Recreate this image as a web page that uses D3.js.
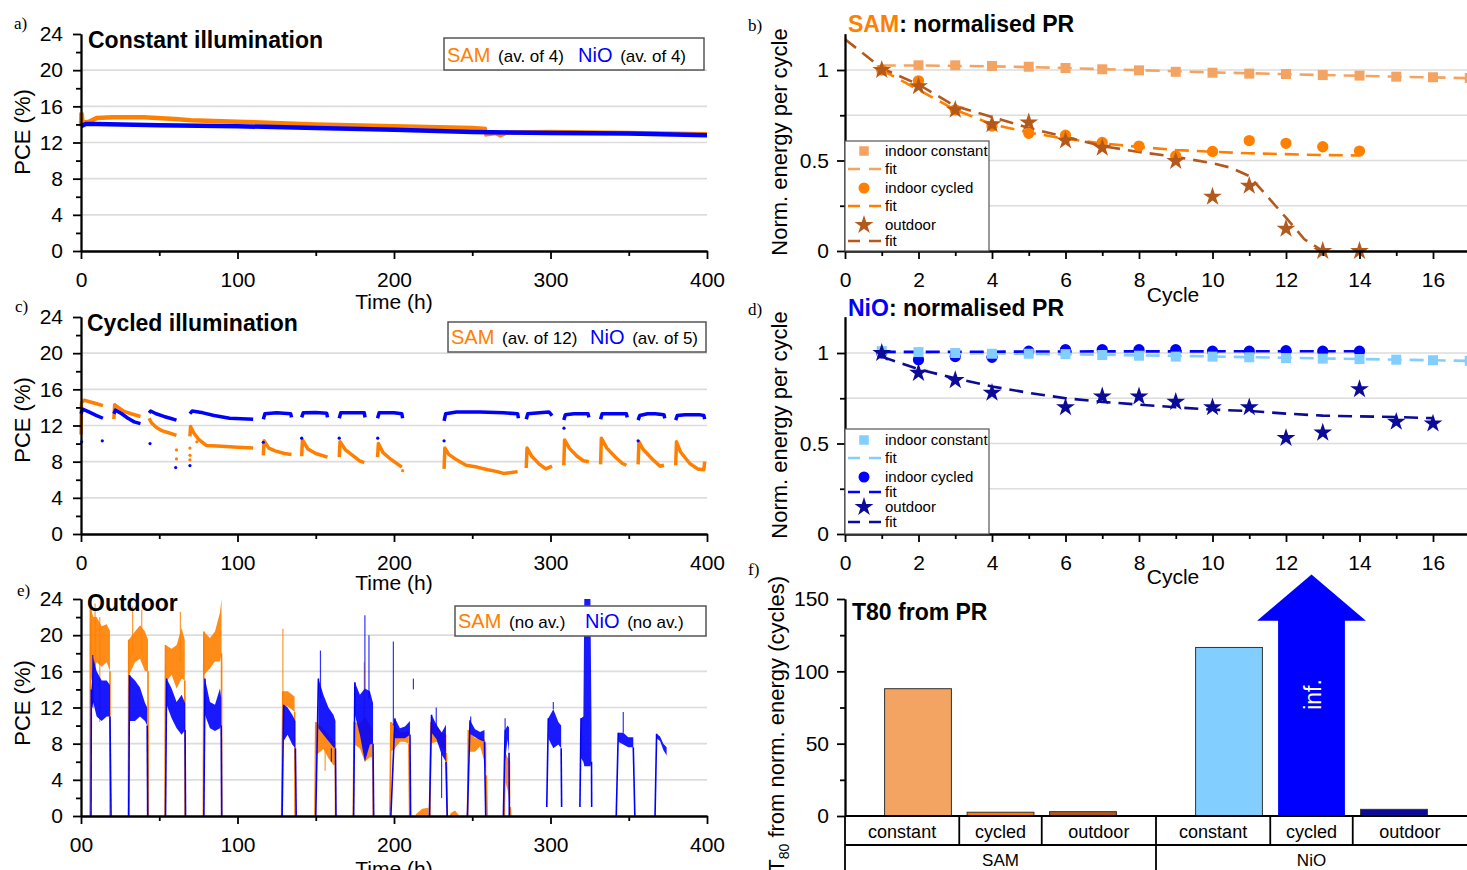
<!DOCTYPE html>
<html>
<head>
<meta charset="utf-8">
<script src="https://cdn.jsdelivr.net/npm/d3@7"></script>
<style>
  body { margin: 0; background: #fff; }
  svg { display: block; font-family: "Liberation Sans", Arial, sans-serif; }
  .axis path, .axis line { stroke: #000; stroke-width: 1.8; }
  .axis text { font-size: 21px; font-family: "Liberation Sans", Arial, sans-serif; fill: #000; }
  .grid line { stroke: #dcdcdc; stroke-width: 1.6; }
  .title { font-size: 23px; font-weight: bold; }
  .lab { font-size: 21px; }
  .ylab { font-size: 22px; }
  .plabel { font-family: "Liberation Serif", "Times New Roman", serif; font-size: 17px; }
  .leg { font-size: 15px; }
</style>
</head>
<body>
<script>
// ---------- ticks ----------
const timeTicks = [0, 100, 200, 300, 400];
const timeMinor = [50, 150, 250, 350];
const pceTicks = [0, 4, 8, 12, 16, 20, 24];
const pceMinor = [2, 6, 10, 14, 18, 22];
const pceGrid = [4, 8, 12, 16, 20];
const cycleTicks = [0, 2, 4, 6, 8, 10, 12, 14, 16];
const cycleMinor = [1, 3, 5, 7, 9, 11, 13, 15, 17];
const normTicks = [0, 0.5, 1];
const normMinor = [0.25, 0.75];
const normGrid = [0.25, 0.5, 0.75, 1];
const t80Ticks = [0, 50, 100, 150];
const t80Minor = [25, 75, 125];

// ---------- a) constant illumination [h, PCE] ----------
const constSAM = [[0,13.8],[0.3,15.3],[1,14.2],[5,14.3],[10,14.7],[20,14.8],[40,14.8],[60,14.6],[70,14.45],[100,14.3],[150,14.0],[200,13.8],[250,13.6],[258,13.5],[259,12.9],[265,13.05],[268,12.8],[272,13.1],[300,13.15],[350,13.05],[400,12.9]];
const constNiO = [[0,13.8],[3,14.05],[10,14.05],[50,13.9],[100,13.8],[150,13.6],[200,13.4],[250,13.15],[300,13.05],[350,13.0],[400,12.8]];

// ---------- c) cycled illumination, one array per light period ----------
const cycSAM = [
  [[0,11.0],[0.3,14.5],[2,14.8],[6,14.6],[10,14.4],[14,14.2]],
  [[21,12.7],[21.5,14.3],[23,14.1],[27,13.6],[32,13.3],[38,13.0]],
  [[43.5,12.8],[45,12.3],[48,11.8],[52,11.4],[56,11.2],[61,10.9]],
  [[69.6,10.8],[70,11.9],[72,11.2],[75,10.5],[80,9.8],[90,9.7],[100,9.6],[110,9.5]],
  [[116.5,8.7],[117,10.3],[120,9.5],[124,9.2],[130,8.9],[134.5,8.8]],
  [[141,8.6],[141.5,10.4],[145,9.4],[150,8.9],[157.5,8.5]],
  [[165,8.5],[165.5,10.2],[169,9.3],[175,8.5],[178,8.1],[181,7.9]],
  [[189.5,8.5],[190,10.0],[193,9.0],[197,8.4],[201,7.9],[205,7.4]],
  [[232,7.2],[232.5,9.5],[235,8.8],[240,8.2],[246,7.6],[253,7.4],[260,7.1],[266,6.9],[270,6.7],[275,6.8],[279,6.9]],
  [[284.5,7.3],[285,9.5],[288,8.6],[293,7.7],[297,7.2],[301,7.5]],
  [[308.5,7.6],[309,10.4],[312,9.5],[317,8.6],[321,8.1],[324.5,8.0]],
  [[332,7.7],[332.5,10.6],[336,9.5],[342,8.4],[346,7.8],[348.5,7.6]],
  [[356,7.7],[356.5,10.2],[359,9.4],[365,8.3],[370,7.5],[372.5,7.6]],
  [[380,7.6],[380.5,10.2],[383,9.1],[389,7.8],[394,7.2],[398,7.1],[398.5,8.0]]
];
const cycSAMDots = [[61,9.3],[61,8.3],[69.6,9.5],[69.6,8.7],[69.6,8.2],[74,10.2],[205.5,7.0]];
const cycNiO = [
  [[0,13.3],[1,13.8],[5,13.5],[10,13.1],[14,12.8]],
  [[21,13.3],[22,13.7],[26,13.3],[30,12.8],[34,12.4],[38,12.2]],
  [[43.5,13.4],[44.5,13.6],[48,13.3],[53,13.0],[57,12.8],[61,12.6]],
  [[69.6,13.3],[71,13.6],[78,13.4],[85,13.1],[95,12.8],[110,12.7]],
  [[116.5,12.7],[117.5,13.3],[125,13.4],[134,13.3],[134.5,12.9]],
  [[141,12.9],[142,13.4],[150,13.45],[157,13.35],[157.5,12.9]],
  [[165,12.8],[166,13.4],[175,13.4],[181,13.4],[181.5,12.9]],
  [[189.5,12.8],[190.5,13.4],[200,13.4],[205,13.3],[205.5,12.8]],
  [[232,12.5],[233,13.3],[240,13.5],[255,13.5],[270,13.4],[279,13.3],[279.5,12.8]],
  [[284.5,12.7],[285.5,13.3],[293,13.4],[299,13.5],[301,13.1]],
  [[308.5,12.6],[309.5,13.2],[315,13.3],[324,13.3],[324.5,12.9]],
  [[332,12.7],[333,13.3],[340,13.3],[348.5,13.3],[349,12.9]],
  [[356,12.6],[357,13.1],[362,13.3],[367,13.3],[372.5,13.2],[373,12.8]],
  [[380,12.6],[381,13.1],[386,13.2],[395,13.2],[398,13.1],[398.5,12.7]]
];
const cycNiODots = [[0.4,10.2],[13.6,10.3],[44.1,10.0],[60.5,7.35],[69.6,7.57],[116.5,10.15],[141,10.6],[165,10.6],[189.6,10.6],[232,10.3],[308.6,11.7],[356,10.3]];

// ---------- e) outdoor: per day, switch-on/off hour and spread [h, low, high] ----------
const outSAM = [
  { on: 5.8, off: 18.5, band: [[6,15,23],[7.9,15.5,22],[10,17,22],[13.2,16.5,21],[16.4,17,21.2],[18.5,16,20.5]] },
  { on: 30.3, off: 43, band: [[30.5,15.5,19.5],[34.5,17,20.4],[37.7,17.4,21.1],[40.9,16,20.4],[42.8,16,19.5]] },
  { on: 53.7, off: 66.5, band: [[54,14.8,18.9],[57.9,15.6,18.5],[61.1,14.1,18.9],[64.3,15.2,20.8],[66.3,15,19.5]] },
  { on: 78.2, off: 89.9, band: [[78.5,15.6,20.4],[82.4,16.3,19.7],[85.6,17.1,20.4],[88.8,17.1,22.5],[89.8,18,24]] },
  { on: 128.2, off: 136.8, band: [[129,12.1,13.8],[132,12.1,13.8],[134.5,11.8,13.5],[136.5,11.5,13.2]] },
  { on: 149.5, off: 162.7, band: [[150,6.7,10.4],[154.9,7.4,9.7],[158.1,6.4,9.0],[161.3,5.6,8.3],[162.5,5.6,8.3]] },
  { on: 174, off: 186.8, band: [[174.5,7.9,10.4],[178.2,7.5,10.2],[181.4,6,11],[184.6,6.5,10],[186.5,6.5,9.5]] },
  { on: 197.4, off: 210, band: [[198,7.1,10.4],[200.6,7.5,10],[203.8,8.2,9.3],[207,8.2,9.3],[209.5,8,9.5]] },
  { on: null, off: null, band: [[214,0,0.2],[218,0,0.8],[222,0,0.9]] },
  { on: 223, off: 234, band: [[223.5,8,10.4],[227.2,8.2,10],[230.4,7.5,9.3],[233.5,7,9]] },
  { on: null, off: null, band: [[236,0,0.3],[239,0,0.6],[241,0,0.2]] },
  { on: 247, off: 259.5, band: [[247.5,7.1,9.5],[251.8,7.1,8.6],[255,7.7,8.6],[257.8,6,8.5],[259,4.5,8]] },
  { on: 270.5, off: 274.6, band: [[271,3.8,7.1],[272.5,3,6.5],[274.3,1,6]] }
];
const outSAMSpikes = [[6.5,15,24],[9,17,23.5],[12,10.4,22],[33,18,23.2],[38.8,18,22.8],[63.5,17,22.6],[129,13,20.7],[181,11,17],[156,5,7.5]];
const outNiO = [
  { on: 6.4, off: 19.2, band: [[6.6,12,14],[7.9,12.5,17.5],[10,11,16],[13.2,10.5,15],[16.4,11,15],[18.5,11,14.5]] },
  { on: 30.5, off: 42.6, band: [[31,10.5,15.6],[34.5,10.5,15],[37.7,11,14.2],[40.9,10.5,12.5],[42.3,10,12]] },
  { on: 54, off: 66.8, band: [[54.7,12.3,15.2],[57.9,10.8,14.1],[61.1,9.7,12.6],[64.3,9.0,13.4],[66.5,9.5,12.5]] },
  { on: 78.5, off: 89.9, band: [[79.2,11.2,15.2],[82.4,9.7,12.6],[85.6,9.4,12.3],[88.8,9.7,14.1],[89.6,10,13]] },
  { on: 128.5, off: 137.5, band: [[129.5,8.3,12.3],[132,9,12.0],[135,7.9,11.2],[137,7.5,10.5]] },
  { on: 150, off: 162.9, band: [[151.7,9.7,15.2],[154.9,9.0,13.4],[158.1,8.3,12],[161.3,7.6,11.2],[162.6,7.5,10.5]] },
  { on: 174.2, off: 187, band: [[175,11.2,14.8],[178.2,9.0,13.4],[181.4,6,14.1],[184.6,7.9,13.8],[186.6,8,12.5]] },
  { on: 198, off: 210.6, band: [[200.6,8.6,10.8],[203.8,8.6,9.7],[207,8.6,9.9],[210.2,9,10.5]] },
  { on: 222.6, off: 234, band: [[224,9.2,11.2],[227.2,8.5,10.1],[230.4,6.8,9.2],[233.2,6,10.1]] },
  { on: 246.9, off: 258.6, band: [[248.6,9.1,10.6],[251.8,8.7,9.6],[255,8.4,9.3],[257.8,8.2,9.5]] },
  { on: 269.9, off: 273.7, band: [[271,6,9.5],[272.5,8.5,10],[273.5,7,9.8]] },
  { on: 297.6, off: 307.1, floor: 1.0, band: [[298.6,8.6,10.8],[301.8,7.5,11.8],[305,7.9,10.4],[306.8,7.5,10]] },
  { on: 318.8, off: 326.3, floor: 1.0, band: [[319.5,6.4,10.8],[321,6,11],[321.6,5.5,24],[325.5,5.5,24],[326.2,6,10]] },
  { on: 342, off: 353.9, band: [[343.3,8.2,9.2],[346.5,7.9,9.2],[349.7,7.6,8.7],[352.9,7.6,8.7]] },
  { on: 366.8, off: null, band: [[367.8,8.6,9.1],[370,8.3,8.8],[372.1,7.3,8.0],[374.2,6.7,7.6]] }
];
const outNiOSpikes = [[7.5,12,17.8],[153,13,18.3],[181.4,14,22.2],[184,13,20],[199.6,10,19.3],[212.4,14,15.2],[227,10,12],[230.4,2,7],[249,10,11],[301.8,11.8,12.6],[346.5,9.2,11.5],[271,9.5,10.8],[160,6,7.5]];

// ---------- b) SAM normalised PR ----------
const cyc17 = [1,2,3,4,5,6,7,8,9,10,11,12,13,14,15,16,17];
const cyc14 = [1,2,3,4,5,6,7,8,9,10,11,12,13,14];
const samConst = [1.0,1.026,1.026,1.022,1.018,1.011,1.004,0.998,0.99,0.985,0.98,0.978,0.972,0.969,0.963,0.96,0.956];
const samConstFit = [1.025,1.025,1.023,1.02,1.016,1.011,1.005,0.999,0.993,0.987,0.982,0.977,0.972,0.968,0.963,0.959,0.955];
const samCyc = [1.0,0.94,0.78,0.69,0.65,0.64,0.60,0.58,0.525,0.55,0.61,0.595,0.576,0.552];
const samCycFit = [1.0,0.89,0.78,0.70,0.655,0.62,0.595,0.575,0.558,0.548,0.54,0.535,0.53,0.528];
const samOutX = [1,2,3,4,5,6,7,9,10,11,12,13,14];
const samOut = [1.0,0.91,0.78,0.70,0.71,0.61,0.57,0.497,0.30,0.36,0.123,0.0,0.0];
const samOutFit = [[0,1.17],[1,1.01],[2,0.92],[3,0.80],[4,0.74],[5,0.68],[6,0.63],[7,0.58],[8,0.547],[9,0.52],[10,0.485],[10.5,0.46],[11,0.414],[11.5,0.30],[12,0.184],[12.5,0.065],[13,0]];

// ---------- d) NiO normalised PR ----------
const nioConst = [1.01,1.005,1.0,0.996,0.996,0.994,0.989,0.985,0.98,0.98,0.976,0.972,0.969,0.967,0.963,0.96,0.957];
const nioConstFit = [1.005,1.003,1.0,0.998,0.995,0.993,0.99,0.987,0.984,0.981,0.977,0.974,0.97,0.967,0.963,0.96,0.956];
const nioCyc = [1.0,0.963,0.98,0.976,1.01,1.018,1.018,1.018,1.018,1.01,1.01,1.013,1.01,1.01];
const nioCycFit = [1.006,1.006,1.007,1.007,1.008,1.008,1.009,1.009,1.009,1.009,1.01,1.01,1.01,1.01];
const nioOutX = [1,2,3,4,6,7,8,9,10,11,12,13,14,15,16];
const nioOut = [1.0,0.89,0.85,0.78,0.70,0.76,0.76,0.73,0.70,0.70,0.53,0.56,0.80,0.62,0.61];
const nioOutFit = [[1,0.98],[2,0.91],[3,0.86],[4,0.815],[5,0.78],[6,0.75],[7,0.73],[8,0.715],[9,0.70],[10,0.687],[11,0.68],[12,0.665],[13,0.654],[14,0.65],[15,0.646],[16,0.64]];

// ---------- f) T80 ----------
const groups = ["SAM", "NiO"];
const conditions = ["constant", "cycled", "outdoor"];
const t80SAM = [88, 2.6, 3.0];
const t80NiO = [116.5, Infinity, 4.6];

// colours
const ORANGE = "#ff8000", BLUE = "#0000ff";
const C = {
  samConst: "#f4a462", samCyc: "#ff8000", samOut: "#b3591c",
  nioConst: "#82cfff", nioCyc: "#0000ff", nioOut: "#0b0b98"
};

const svg = d3.select("body").append("svg").attr("width", 1467).attr("height", 870);
svg.append("rect").attr("width", 1467).attr("height", 870).attr("fill", "#fff");

/* ======================= time panels (a, c, e) ======================= */
const x = d3.scaleLinear().domain([0, 400]).range([81, 707]);

function timePanel(bottom, top) {
  const y = d3.scaleLinear().domain([0, 24]).range([bottom, top]);
  svg.append("g").attr("class", "grid").selectAll("line").data(pceGrid).join("line")
    .attr("x1", 81).attr("x2", 707).attr("y1", d => y(d)).attr("y2", d => y(d));
  return y;
}

function timeAxes(y, zeroText) {
  const b = y.range()[0];
  svg.append("g").attr("class", "axis").attr("transform", `translate(0,${b})`)
    .call(d3.axisBottom(x).tickValues(timeMinor).tickSize(5).tickSizeOuter(0).tickFormat(""));
  svg.append("g").attr("class", "axis").attr("transform", `translate(0,${b})`)
    .call(d3.axisBottom(x).tickValues(timeTicks).tickSize(8).tickSizeOuter(0).tickPadding(13)
      .tickFormat(d => d === 0 ? zeroText : d));
  svg.append("g").attr("class", "axis").attr("transform", "translate(81,0)")
    .call(d3.axisLeft(y).tickValues(pceMinor).tickSize(5).tickSizeOuter(0).tickFormat(""));
  svg.append("g").attr("class", "axis").attr("transform", "translate(81,0)")
    .call(d3.axisLeft(y).tickValues(pceTicks).tickSize(8).tickSizeOuter(0).tickPadding(10));
}

function yLabel(text, cx, cy) {
  svg.append("text").attr("class", "ylab").attr("text-anchor", "middle")
    .attr("transform", `translate(${cx},${cy}) rotate(-90)`).text(text);
}

function timeLegend(box, samNote, nioNote, nioX) {
  svg.append("rect").attr("x", box[0]).attr("y", box[1]).attr("width", box[2]).attr("height", box[3])
    .attr("fill", "#fff").attr("stroke", "#555").attr("stroke-width", 1.5);
  const t = svg.append("text").attr("x", box[0] + 3).attr("y", box[1] + box[3] - 8);
  t.append("tspan").attr("fill", ORANGE).attr("font-size", 20).text("SAM");
  t.append("tspan").attr("font-size", 17).attr("dx", 3).text(" " + samNote);
  t.append("tspan").attr("fill", BLUE).attr("font-size", 20).attr("x", nioX).text("NiO");
  t.append("tspan").attr("font-size", 17).attr("dx", 3).text(" " + nioNote);
}

const line = (xs, ys) => d3.line().x(d => xs(d[0])).y(d => ys(d[1]));

// --- a)
const ya = timePanel(251, 34);
svg.append("path").attr("d", line(x, ya)(constSAM)).attr("fill", "none").attr("stroke", ORANGE).attr("stroke-width", 4.5);
svg.append("path").attr("d", line(x, ya)(constNiO)).attr("fill", "none").attr("stroke", BLUE).attr("stroke-width", 4.5);
timeAxes(ya, "0");
timeLegend([444, 38, 260, 32], "(av. of 4)", "(av. of 4)", 578);
svg.append("text").attr("class", "title").attr("x", 88).attr("y", 48).text("Constant illumination");
svg.append("text").attr("class", "lab").attr("x", 394).attr("y", 309).attr("text-anchor", "middle").text("Time (h)");
yLabel("PCE (%)", 30, 132);
svg.append("text").attr("class", "plabel").attr("x", 14).attr("y", 29).text("a)");

// --- c)
const yc = timePanel(534, 317);
cycSAM.forEach(seg => svg.append("path").attr("d", line(x, yc)(seg)).attr("fill", "none")
  .attr("stroke", ORANGE).attr("stroke-width", 3.5).attr("stroke-linejoin", "round"));
svg.append("g").selectAll("circle").data(cycSAMDots).join("circle")
  .attr("cx", d => x(d[0])).attr("cy", d => yc(d[1])).attr("r", 1.6).attr("fill", ORANGE);
cycNiO.forEach(seg => svg.append("path").attr("d", line(x, yc)(seg)).attr("fill", "none")
  .attr("stroke", BLUE).attr("stroke-width", 3.5).attr("stroke-linejoin", "round"));
svg.append("g").selectAll("circle").data(cycNiODots).join("circle")
  .attr("cx", d => x(d[0])).attr("cy", d => yc(d[1])).attr("r", 1.6).attr("fill", BLUE);
timeAxes(yc, "0");
timeLegend([448, 322, 258, 30], "(av. of 12)", "(av. of 5)", 590);
svg.append("text").attr("class", "title").attr("x", 87).attr("y", 331).text("Cycled illumination");
svg.append("text").attr("class", "lab").attr("x", 394).attr("y", 590).attr("text-anchor", "middle").text("Time (h)");
yLabel("PCE (%)", 30, 420);
svg.append("text").attr("class", "plabel").attr("x", 15).attr("y", 312).text("c)");

// --- e)
const ye = timePanel(816, 599);
function drawDays(days, spikes, color) {
  const area = d3.area().x(d => x(d[0])).y0(d => ye(d[1])).y1(d => ye(d[2]));
  days.forEach(day => {
    const floor = day.floor || 0;
    const first = day.band[0], last = day.band[day.band.length - 1];
    svg.append("path").attr("d", area(day.band)).attr("fill", color).attr("opacity", 0.9);
    if (day.on != null) svg.append("line").attr("x1", x(day.on)).attr("x2", x(first[0]))
      .attr("y1", ye(floor)).attr("y2", ye(first[2])).attr("stroke", color).attr("stroke-width", 1.6);
    if (day.off != null) svg.append("line").attr("x1", x(last[0])).attr("x2", x(day.off))
      .attr("y1", ye(last[1])).attr("y2", ye(floor)).attr("stroke", color).attr("stroke-width", 1.6);
  });
  svg.append("g").selectAll("line").data(spikes).join("line")
    .attr("x1", d => x(d[0])).attr("x2", d => x(d[0]))
    .attr("y1", d => ye(d[1])).attr("y2", d => ye(d[2]))
    .attr("stroke", color).attr("stroke-width", 1.2).attr("opacity", 0.8);
}
drawDays(outSAM, outSAMSpikes, ORANGE);
drawDays(outNiO, outNiOSpikes, BLUE);
timeAxes(ye, "00");
timeLegend([455, 606, 251, 30], "(no av.)", "(no av.)", 585);
svg.append("text").attr("class", "title").attr("x", 87).attr("y", 611).text("Outdoor");
svg.append("text").attr("class", "lab").attr("x", 394).attr("y", 876).attr("text-anchor", "middle").text("Time (h)");
yLabel("PCE (%)", 30, 703);
svg.append("text").attr("class", "plabel").attr("x", 17).attr("y", 596).text("e)");

/* ======================= cycle panels (b, d) ======================= */
const xc = d3.scaleLinear().domain([0, 17]).range([845, 845 + 17 * 36.75]);
const sym = (type, size) => d3.symbol().type(type).size(size)();

function cyclePanel(bottom) {
  const y = d3.scaleLinear().domain([0, 1.2]).range([bottom, bottom - 1.2 * 181]);
  svg.append("g").attr("class", "grid").selectAll("line").data(normGrid).join("line")
    .attr("x1", 845).attr("x2", 1467).attr("y1", d => y(d)).attr("y2", d => y(d));
  return y;
}

function fitPath(y, pts, color, width) {
  svg.append("path").attr("d", line(xc, y)(pts)).attr("fill", "none").attr("stroke", color)
    .attr("stroke-width", width || 2.6).attr("stroke-dasharray", "14,8");
}

function markers(y, xs, ys, shape, size, color) {
  svg.append("g").selectAll("path").data(xs.map((c, i) => [c, ys[i]])).join("path")
    .attr("d", sym(shape, size)).attr("fill", color)
    .attr("transform", d => `translate(${xc(d[0])},${y(d[1])})`);
}

function cycleAxes(y) {
  const b = y.range()[0];
  svg.append("g").attr("class", "axis").attr("transform", `translate(0,${b})`)
    .call(d3.axisBottom(xc).tickValues(cycleMinor).tickSize(5).tickSizeOuter(0).tickFormat(""));
  svg.append("g").attr("class", "axis").attr("transform", `translate(0,${b})`)
    .call(d3.axisBottom(xc).tickValues(cycleTicks).tickSize(8).tickSizeOuter(0).tickPadding(13));
  svg.append("g").attr("class", "axis").attr("transform", "translate(845,0)")
    .call(d3.axisLeft(y).tickValues(normMinor).tickSize(5).tickSizeOuter(0).tickFormat(""));
  svg.append("g").attr("class", "axis").attr("transform", "translate(845,0)")
    .call(d3.axisLeft(y).tickValues(normTicks).tickSize(8).tickSizeOuter(0).tickPadding(8).tickFormat(d3.format("~g")));
}

function cycleLegend(top, bottom, rows) {
  svg.append("rect").attr("x", 845).attr("y", top).attr("width", 144).attr("height", bottom - top)
    .attr("fill", "#fff").attr("stroke", "#555").attr("stroke-width", 1.2);
  rows.forEach(r => {
    const cy = top + r.dy;
    if (r.shape) {
      svg.append("path").attr("d", sym(r.shape, r.size)).attr("fill", r.color)
        .attr("transform", `translate(864,${cy})`);
    } else {
      svg.append("line").attr("x1", 848).attr("x2", 881).attr("y1", cy).attr("y2", cy)
        .attr("stroke", r.color).attr("stroke-width", 2.6).attr("stroke-dasharray", "12,9");
    }
    svg.append("text").attr("class", "leg").attr("x", 885).attr("y", cy + 5).text(r.label);
  });
}

// --- b)
const yb = cyclePanel(251);
fitPath(yb, cyc17.map((c, i) => [c, samConstFit[i]]), C.samConst);
fitPath(yb, cyc14.map((c, i) => [c, samCycFit[i]]), C.samCyc);
fitPath(yb, samOutFit, C.samOut);
markers(yb, cyc17, samConst, d3.symbolSquare, 100, C.samConst);
markers(yb, cyc14, samCyc, d3.symbolCircle, 100, C.samCyc);
markers(yb, samOutX, samOut, d3.symbolStar, 110, C.samOut);
cycleAxes(yb);
cycleLegend(141, 251, [
  { dy: 10, shape: d3.symbolSquare, size: 90, color: C.samConst, label: "indoor constant" },
  { dy: 28, color: C.samConst, label: "fit" },
  { dy: 47, shape: d3.symbolCircle, size: 95, color: C.samCyc, label: "indoor cycled" },
  { dy: 65, color: C.samCyc, label: "fit" },
  { dy: 84, shape: d3.symbolStar, size: 110, color: C.samOut, label: "outdoor" },
  { dy: 100, color: C.samOut, label: "fit" }
]);
const tb = svg.append("text").attr("class", "title").attr("x", 848).attr("y", 32);
tb.append("tspan").attr("fill", ORANGE).text("SAM");
tb.append("tspan").text(": normalised PR");
svg.append("text").attr("class", "lab").attr("x", 1173).attr("y", 302).attr("text-anchor", "middle").text("Cycle");
yLabel("Norm. energy per cycle", 787, 142);
svg.append("text").attr("class", "plabel").attr("x", 748).attr("y", 31).text("b)");

// --- d)
const yd = cyclePanel(534);
fitPath(yd, cyc17.map((c, i) => [c, nioConstFit[i]]), C.nioConst);
fitPath(yd, cyc14.map((c, i) => [c, nioCycFit[i]]), C.nioCyc);
fitPath(yd, nioOutFit, C.nioOut);
markers(yd, cyc14, nioCyc, d3.symbolCircle, 100, C.nioCyc);
markers(yd, cyc17, nioConst, d3.symbolSquare, 100, C.nioConst);
markers(yd, nioOutX, nioOut, d3.symbolStar, 110, C.nioOut);
cycleAxes(yd);
cycleLegend(429, 534, [
  { dy: 11, shape: d3.symbolSquare, size: 90, color: C.nioConst, label: "indoor constant" },
  { dy: 29, color: C.nioConst, label: "fit" },
  { dy: 48, shape: d3.symbolCircle, size: 95, color: C.nioCyc, label: "indoor cycled" },
  { dy: 63, color: C.nioCyc, label: "fit" },
  { dy: 78, shape: d3.symbolStar, size: 110, color: C.nioOut, label: "outdoor" },
  { dy: 93, color: C.nioOut, label: "fit" }
]);
const td = svg.append("text").attr("class", "title").attr("x", 848).attr("y", 316);
td.append("tspan").attr("fill", BLUE).text("NiO");
td.append("tspan").text(": normalised PR");
svg.append("text").attr("class", "lab").attr("x", 1173).attr("y", 584).attr("text-anchor", "middle").text("Cycle");
yLabel("Norm. energy per cycle", 787, 425);
svg.append("text").attr("class", "plabel").attr("x", 748).attr("y", 315).text("d)");

/* ======================= f) T80 bars ======================= */
const yF = d3.scaleLinear().domain([0, 150]).range([816, 599]);
const gx = d3.scaleBand().domain(groups).range([845, 1467]);
const cx = d3.scaleBand().domain(conditions).range([0, gx.bandwidth()]).paddingInner(0.19).paddingOuter(0.48);
const barColors = { SAM: [C.samConst, C.samCyc, C.samOut], NiO: [C.nioConst, C.nioCyc, C.nioOut] };
const barData = [];
groups.forEach(g => conditions.forEach((c, i) =>
  barData.push({ g, c, v: (g === "SAM" ? t80SAM : t80NiO)[i], color: barColors[g][i] })));

svg.append("g").selectAll("rect").data(barData.filter(d => isFinite(d.v))).join("rect")
  .attr("x", d => gx(d.g) + cx(d.c)).attr("width", cx.bandwidth())
  .attr("y", d => yF(d.v)).attr("height", d => yF(0) - yF(d.v))
  .attr("fill", d => d.color).attr("stroke", "#333").attr("stroke-width", 1);

// infinite T80 drawn as an upward arrow
barData.filter(d => !isFinite(d.v)).forEach(d => {
  const l = gx(d.g) + cx(d.c), r = l + cx.bandwidth(), m = (l + r) / 2;
  const base = yF(135), tip = yF(167), over = 21;
  svg.append("polygon").attr("fill", d.color)
    .attr("points", [[l, yF(0)], [l, base], [l - over, base], [m, tip], [r + over, base], [r, base], [r, yF(0)]].join(" "));
  svg.append("text").attr("fill", "#fff").attr("font-size", 23).attr("text-anchor", "middle")
    .attr("transform", `translate(${m + 9},${yF(84)}) rotate(-90)`).text("inf.");
});

svg.append("g").attr("class", "axis").attr("transform", "translate(845,0)")
  .call(d3.axisLeft(yF).tickValues(t80Minor).tickSize(5).tickSizeOuter(0).tickFormat(""));
svg.append("g").attr("class", "axis").attr("transform", "translate(845,0)")
  .call(d3.axisLeft(yF).tickValues(t80Ticks).tickSize(8).tickSizeOuter(0).tickPadding(8));

// category table under the bars: cells split halfway between bars
const tbl = svg.append("g").attr("stroke", "#000").attr("stroke-width", 1.8);
tbl.append("line").attr("x1", 845).attr("x2", 1467).attr("y1", yF(0)).attr("y2", yF(0));
tbl.append("line").attr("x1", 845).attr("x2", 1467).attr("y1", 845).attr("y2", 845);
tbl.append("line").attr("x1", 845).attr("x2", 845).attr("y1", yF(0)).attr("y2", 870);
groups.forEach((g, gi) => {
  const g0 = gx(g), g1 = g0 + gx.bandwidth();
  if (gi > 0) tbl.append("line").attr("x1", g0).attr("x2", g0).attr("y1", yF(0)).attr("y2", 870);
  const seps = conditions.slice(1).map(c => g0 + cx(c) - cx.step() * cx.paddingInner() / 2);
  seps.forEach(sx => tbl.append("line").attr("x1", sx).attr("x2", sx).attr("y1", yF(0)).attr("y2", 845));
  const edges = [g0, ...seps, g1];
  conditions.forEach((c, i) => {
    svg.append("text").attr("font-size", 18).attr("text-anchor", "middle")
      .attr("x", (edges[i] + edges[i + 1]) / 2).attr("y", 838).text(c);
  });
  svg.append("text").attr("font-size", 17).attr("text-anchor", "middle")
    .attr("x", g0 + gx.bandwidth() / 2).attr("y", 866).text(g);
});

svg.append("text").attr("class", "title").attr("x", 852).attr("y", 620).text("T80 from PR");
const tl = svg.append("text").attr("class", "ylab").attr("text-anchor", "end")
  .attr("transform", "translate(784,576) rotate(-90)");
tl.append("tspan").text("T");
tl.append("tspan").attr("font-size", 14).attr("dy", 5).text("80");
tl.append("tspan").attr("dy", -5).text(" from norm. energy (cycles)");
svg.append("text").attr("class", "plabel").attr("x", 748).attr("y", 575).text("f)");
</script>
</body>
</html>
